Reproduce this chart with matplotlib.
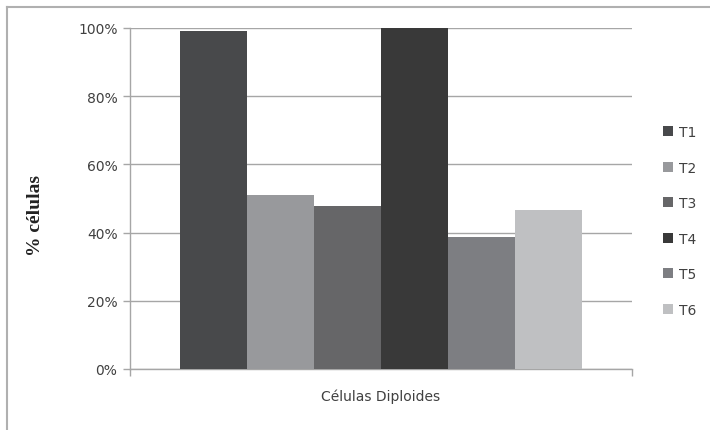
import matplotlib
matplotlib.use("Agg")
import matplotlib.pyplot as plt
from matplotlib.lines import Line2D
from matplotlib.patches import Patch

# Data
series = ["T1", "T2", "T3", "T4", "T5", "T6"]
values = [99.2, 50.9, 47.9, 100.0, 38.6, 46.5]
colors = ["#48494b", "#98999c", "#666668", "#393939", "#7d7e82", "#bfc0c2"]
category = "Células Diploides"
yticks = [0, 20, 40, 60, 80, 100]
ytick_labels = ["0%", "20%", "40%", "60%", "80%", "100%"]

W, H = 710, 431
FONT = "DejaVu Sans"
TXT = "#404040"
fig = plt.figure(figsize=(W / 100, H / 100), dpi=100)
ax = fig.add_axes([130 / W, (H - 370) / H, 502 / W, 341 / H])

group_width = 0.8
bw = group_width / len(series)
for i, (name, v, c) in enumerate(zip(series, values, colors)):
    x = -group_width / 2 + bw * (i + 0.5)
    ax.bar(x, v, width=bw, color=c, label=name, zorder=3, linewidth=0)

ax.set_xlim(-0.5, 0.5)
ax.set_ylim(0, 100)
ax.set_yticks(yticks)
ax.set_yticklabels(ytick_labels, fontfamily=FONT, fontsize=10, color=TXT)
ax.yaxis.grid(True, color="#a6a6a6", linewidth=1.0, zorder=0)
ax.set_axisbelow(True)

ax.set_xticks([-0.5, 0.5])
ax.set_xticklabels(["", ""])
ax.tick_params(axis="x", length=5, color="#a6a6a6", width=1, direction="out")
ax.tick_params(axis="y", length=5, color="#a6a6a6", width=1, direction="out", pad=4)

for side in ["top", "right"]:
    ax.spines[side].set_visible(False)
for side in ["left", "bottom"]:
    ax.spines[side].set_color("#a6a6a6")
    ax.spines[side].set_linewidth(1.0)

ax.text(0, -7.8, category, ha="center", va="center", fontfamily=FONT,
        fontsize=10, color=TXT, transform=ax.transData, clip_on=False)

fig.text(35 / W, 1 - 216 / H, "% células", rotation=90, ha="center", va="center",
         fontfamily="Liberation Serif", fontweight="bold", fontsize=14, color="#222222")

handles = [Patch(facecolor=c, edgecolor="none") for c in colors]
fig.legend(handles, series, loc="center left", bbox_to_anchor=(650 / W, 1 - 222 / H),
           frameon=False, handlelength=0.72, handleheight=0.72, handletextpad=0.5,
           labelspacing=1.55, prop={"family": FONT, "size": 10},
           labelcolor=TXT)

# Outer frame lines (top and left)
fig.add_artist(Line2D([7 / W, 1], [1 - 8 / H, 1 - 8 / H], color="#b0b0b0", linewidth=1.5,
                      transform=fig.transFigure))
fig.add_artist(Line2D([7 / W, 7 / W], [0, 1 - 8 / H], color="#b0b0b0", linewidth=1.5,
                      transform=fig.transFigure))

fig.savefig("out.png", dpi=100)
